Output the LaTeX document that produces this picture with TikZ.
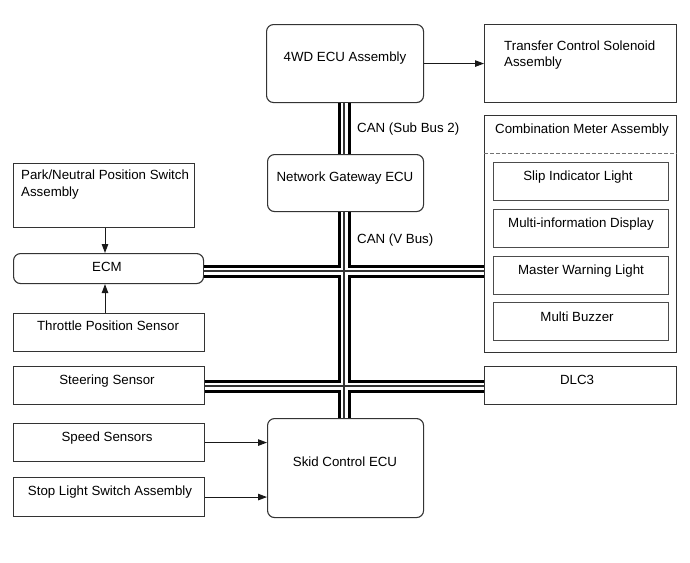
\documentclass[tikz,border=0pt]{standalone}
\usepackage{fontspec}
\setmainfont{Liberation Sans}
\usetikzlibrary{arrows.meta}
\begin{document}
\begin{tikzpicture}[x=1pt,y=-1pt,
  box/.style={draw=black!80, line width=1.1pt, inner sep=0pt, anchor=north west},
  rbox/.style={box, rounded corners=7pt},
  ibox/.style={box, draw=black!70, line width=0.9pt},
  txt/.style={inner sep=0pt, text height=9.6pt, text depth=0pt, font=\fontsize{13.3}{16}\selectfont},
  arr/.style={draw=black!90, line width=1pt, -{Triangle[length=9pt,width=6.5pt]}},
  busouter/.style={line width=13pt, black},
  businner/.style={line width=7pt, white},
  buscore/.style={line width=1.6pt, black!80},
]
\useasboundingbox (0,0) rectangle (690,562);

% boxes
\node[rbox, minimum width=157pt, minimum height=78pt] (wd) at (266,24) {};
\node[box, minimum width=192pt, minimum height=78pt] (tcs) at (484,24) {};
\node[rbox, minimum width=156pt, minimum height=57pt] (gw) at (267,154) {};
\node[box, minimum width=192pt, minimum height=237pt] (cma) at (484,115) {};
\node[ibox, minimum width=175pt, minimum height=38pt] (slip) at (493,162) {};
\node[ibox, minimum width=175pt, minimum height=38pt] (mid) at (493,209) {};
\node[ibox, minimum width=175pt, minimum height=38pt] (mwl) at (493,256) {};
\node[ibox, minimum width=175pt, minimum height=38pt] (mb) at (493,302) {};
\node[box, minimum width=181pt, minimum height=64pt] (pn) at (13,163) {};
\node[rbox, minimum width=190pt, minimum height=30pt] (ecm) at (13,253) {};
\node[box, minimum width=191pt, minimum height=38pt] (tps) at (13,313) {};
\node[box, minimum width=191pt, minimum height=38pt] (ss) at (13,366) {};
\node[box, minimum width=191pt, minimum height=38pt] (sp) at (13,423) {};
\node[box, minimum width=191pt, minimum height=39pt] (sl) at (13,477) {};
\node[rbox, minimum width=156pt, minimum height=99pt] (skid) at (267,418) {};
\node[box, minimum width=192pt, minimum height=38pt] (dlc) at (484,366) {};

% dashed separator in combination meter
\coordinate (dsh) at (484,153);
\draw[draw=black!55, line width=0.8pt, dash pattern=on 4pt off 2pt] (dsh) -- (dsh -| cma.east);

% bus
\coordinate (ja) at (344,271);
\coordinate (jb) at (344,386);
\foreach \s in {busouter,businner,buscore}{
  \draw[\s] (wd.south -| ja) -- (gw.north -| ja);
  \draw[\s] (gw.south -| ja) -- (skid.north -| ja);
  \draw[\s] (ecm.east |- ja) -- (cma.west |- ja);
  \draw[\s] (ss.east |- jb) -- (dlc.west |- jb);
}

% arrows
\draw[arr] (wd.east) -- (tcs.west);
\coordinate (ax) at (105,0);
\draw[arr] (pn.south -| ax) -- (ecm.north -| ax);
\draw[arr] (tps.north -| ax) -- (ecm.south -| ax);
\draw[arr] (sp.east) -- (sp.east -| skid.west);
\draw[arr] (sl.east) -- (sl.east -| skid.west);

% texts
\node[txt] (t-wd) at (345,57) {4WD ECU Assembly};
\node[txt, anchor=west] (t-tcs1) at (504,46) {Transfer Control Solenoid};
\node[txt, anchor=west] (t-tcs2) at (504,62) {Assembly};
\node[txt] (t-gw) at (345,177) {Network Gateway ECU};
\node[txt, anchor=west] (t-can1) at (357,128) {CAN (Sub Bus 2)};
\node[txt, anchor=west] (t-can2) at (357,239) {CAN (V Bus)};
\node[txt] (t-cma) at (582,129) {Combination Meter Assembly};
\node[txt] (t-slip) at (578,176) {Slip Indicator Light};
\node[txt] (t-mid) at (581,223) {Multi-information Display};
\node[txt] (t-mwl) at (581,270) {Master Warning Light};
\node[txt] (t-mb) at (577,317) {Multi Buzzer};
\node[txt, anchor=west] (t-pn1) at (21,175) {Park/Neutral Position Switch};
\node[txt, anchor=west] (t-pn2) at (21,192) {Assembly};
\node[txt] (t-ecm) at (107,267) {ECM};
\node[txt] (t-tps) at (108,326) {Throttle Position Sensor};
\node[txt] (t-ss) at (107,380) {Steering Sensor};
\node[txt] (t-sp) at (107,437) {Speed Sensors};
\node[txt] (t-sl) at (110,491) {Stop Light Switch Assembly};
\node[txt] (t-skid) at (345,462) {Skid Control ECU};
\node[txt] (t-dlc) at (577,380) {DLC3};
\end{tikzpicture}
\end{document}
